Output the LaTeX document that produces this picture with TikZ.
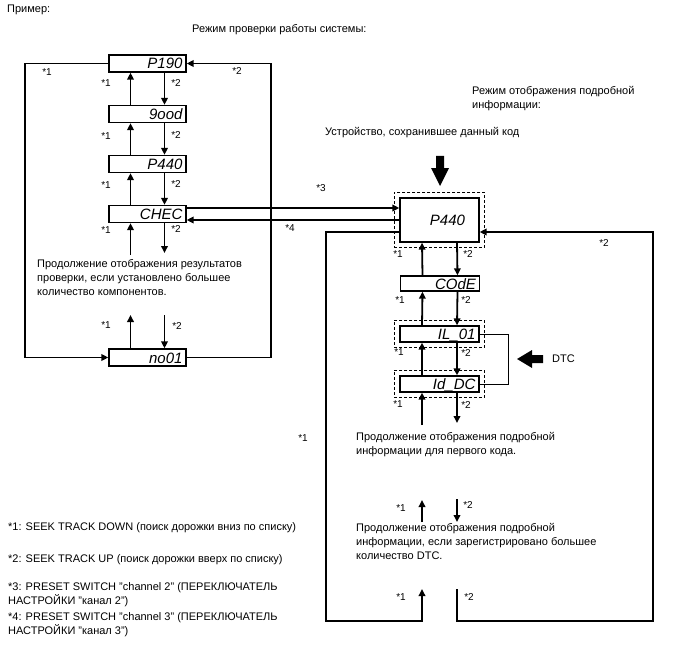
\documentclass[tikz,border=0pt]{standalone}
\usepackage{fontspec}
\setmainfont{Liberation Sans}
\newfontfamily\lcdfont{Liberation Sans}
\usetikzlibrary{arrows.meta,fit}

\tikzset{
		diag/.style={x=1pt,y=-1pt},
		lcd/.style={draw,line width=1.3pt,minimum width=77pt,minimum height=17pt,inner sep=0pt,
			text width=70pt,align=right,text height=11pt,text depth=0pt,
			font=\lcdfont\itshape\fontsize{15}{15}\selectfont},
		lcdr/.style={lcd,minimum width=79pt,minimum height=16pt,text width=72pt},
		lcdbig/.style={lcd,minimum width=79pt,minimum height=44pt,text width=51pt},
		framed/.style={draw,line width=0.7pt,dash pattern=on 3pt off 2pt,inner sep=5pt},
		wire/.style={line width=1.8pt},
		arr/.style={wire,-{Triangle[length=7pt,width=6.5pt]}},
		bracket/.style={line width=0.9pt},
		star/.style={font=\fontsize{10}{12}\selectfont,inner sep=0pt},
		note/.style={font=\fontsize{11}{14}\selectfont,align=left,inner sep=0pt,anchor=north west}
	}

\begin{document}
\begin{tikzpicture}[diag]
	\useasboundingbox (0,0) rectangle (688,658);
	% titles
	\node[note] (tprim) at (7,5) {Пример:};
	\node[note] (tcheck) at (192,24) {Режим проверки работы системы:};
	\node[note] (tdetail) at (472,86) {Режим отображения подробной\\информации:};
	\node[note] (tdev) at (325,127) {Устройство, сохранившее данный код};
	% check mode
	\node[lcd] (p190) at (147.5,63.5) {P190};
	\node[lcd] (good) at (147.5,114) {9ood};
	\node[lcd] (p440a) at (147.5,164) {P440};
	\node[lcd] (chec) at (147.5,214) {CHEC};
	\node[lcd] (no01) at (147.5,357.5) {no01};
	\node[note] (tmore) at (37,259) {Продолжение отображения результатов\\проверки, если установлено большее\\количество компонентов.};
	\draw[arr] (p190.west) -- ++(-83,0) |- (no01.west);
	\draw[arr] (no01.east) -- ++(84,0) |- (p190.east);
	\foreach \a/\b in {good/p190,p440a/good,chec/p440a}{
		\draw[arr] ([xshift=-17pt]\a.north) -- ([xshift=-17pt]\b.south);
		\draw[arr] ([xshift=17pt]\b.south) -- ([xshift=17pt]\a.north);
	}
	\coordinate (cu) at (130.5,255);
	\coordinate (cd) at (164.5,253);
	\coordinate (nu) at (130.5,315);
	\coordinate (nd) at (164.5,315);
	\draw[arr] (cu) -- ([xshift=-17pt]chec.south);
	\draw[arr] ([xshift=17pt]chec.south) -- (cd);
	\draw[arr] ([xshift=-17pt]no01.north) -- (nu);
	\draw[arr] (nd) -- ([xshift=17pt]no01.north);
	% detail mode
	\node[lcdbig] (p440) at (439.5,220) {P440};
	\node[lcdr,minimum height=15pt] (code) at (440,283.5) {COdE};
	\node[lcdr] (il01) at (439.5,334) {IL\_01};
	\node[lcdr] (iddc) at (439.5,384) {Id\_DC};
	\node[framed,fit=(p440)] (p440f) {};
	\node[framed,fit=(il01)] (il01f) {};
	\node[framed,fit=(iddc)] (iddcf) {};
	\fill (436,156) -- (444,156) -- (444,168) -- (449,168) -- (440,186) -- (431,168) -- (436,168) -- cycle;
	\draw[arr] ([yshift=6pt]chec.east) -- ([yshift=6pt]chec.east -| p440.west);
	\draw[arr] ([yshift=-6pt]chec.east -| p440.west) -- ([yshift=-6pt]chec.east);
	\foreach \a/\b in {code/p440,il01/code,iddc/il01}{
		\draw[arr] ([xshift=-17.5pt]\a.north) -- ([xshift=-17.5pt]\b.south);
		\draw[arr] ([xshift=17.5pt]\b.south) -- ([xshift=17.5pt]\a.north);
	}
	\draw[bracket] (il01.east) -- ++(29,0) |- (iddc.east);
	\fill (517,359) -- (532,350) -- (532,355) -- (543,355) -- (543,363) -- (532,363) -- (532,368) -- cycle;
	\node[note,anchor=west] (dtc) at (552,359) {DTC};
	\coordinate (iu) at (422,425);
	\coordinate (id) at (457,423);
	\draw[arr] (iu) -- ([xshift=-17.5pt]iddc.south);
	\draw[arr] ([xshift=17.5pt]iddc.south) -- (id);
	\node[note] (tfirst) at (356,432) {Продолжение отображения подробной\\информации для первого кода.};
	\coordinate (mu1) at (422,522);
	\coordinate (mu2) at (422,500);
	\coordinate (md1) at (457,499);
	\coordinate (md2) at (457,522);
	\draw[arr] (mu1) -- (mu2);
	\draw[arr] (md1) -- (md2);
	\node[note] (tdtc) at (356,523) {Продолжение отображения подробной\\информации, если зарегистрировано большее\\количество DTC.};
	\coordinate (bu) at (422,589);
	\coordinate (bd) at (457,589);
	\draw[arr] ([yshift=-12pt]p440.west) -- ++(-73,0) |- ([yshift=-32pt]bu) -- (bu);
	\draw[arr] (bd) -- ++(0,32) -- ++(196,0) |- ([yshift=-12pt]p440.east);
	% key labels
	\foreach \x/\y/\t [count=\i] in {47/72/*1,237/71/*2,106/83/*1,176/83/*2,106/136/*1,176/135/*2,
		106/185/*1,176/184/*2,106/230/*1,176/229/*2,106/325/*1,177/326/*2,321/188/*3,290/228/*4,
		398/254/*1,468/254/*2,400/300/*1,466/300/*2,399/352/*1,466/353/*2,398/404/*1,466/405/*2,
		303/438/*1,604/243/*2,401/508/*1,468/505/*2,401/597/*1,469/597/*2}
		\node[star] (key\i) at (\x,\y) {\t};
	% footnotes
	\node[note] (fn1) at (8,522) {*1: SEEK TRACK DOWN (поиск дорожки вниз по списку)};
	\node[note] (fn2) at (8,554) {*2: SEEK TRACK UP (поиск дорожки вверх по списку)};
	\node[note] (fn3) at (8,582) {*3: PRESET SWITCH "channel 2" (ПЕРЕКЛЮЧАТЕЛЬ\\НАСТРОЙКИ "канал 2")};
	\node[note] (fn4) at (8,612) {*4: PRESET SWITCH "channel 3" (ПЕРЕКЛЮЧАТЕЛЬ\\НАСТРОЙКИ "канал 3")};
\end{tikzpicture}
\end{document}
